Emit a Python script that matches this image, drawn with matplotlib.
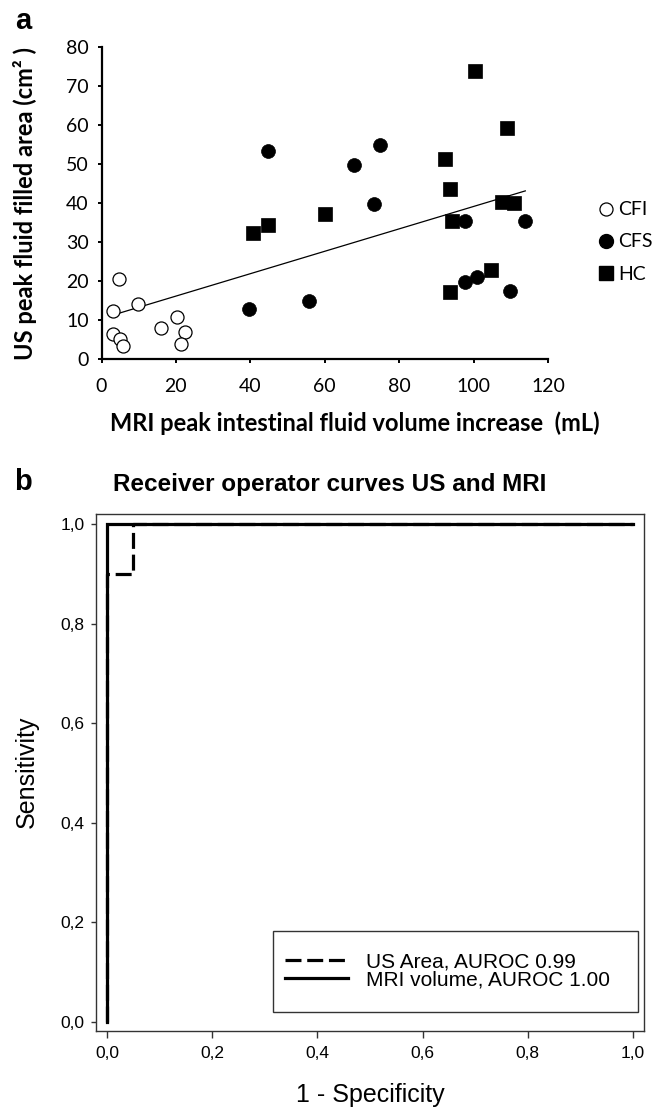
import matplotlib
matplotlib.use('Agg')
import matplotlib.pyplot as plt
from matplotlib.lines import Line2D
from matplotlib.patches import Rectangle

W, H, DPI = 661, 1117, 100

# ---------------- Panel a data ----------------
cfi_x = [4.7, 3.2, 9.7, 3.2, 5.0, 5.7, 15.9, 20.2, 22.4, 21.4]
cfi_y = [20.5, 12.4, 14.2, 6.4, 5.2, 3.4, 7.9, 10.7, 6.9, 3.8]
cfs_x = [44.8, 39.6, 55.8, 67.8, 73.2, 74.8, 97.8, 113.7, 97.8, 101.0, 109.8]
cfs_y = [53.3, 12.8, 14.9, 49.6, 39.7, 54.8, 35.4, 35.4, 19.9, 21.1, 17.6]
hc_x = [40.7, 44.8, 60.0, 92.3, 100.4, 93.7, 94.1, 109.1, 107.6, 110.9, 104.8, 93.7]
hc_y = [32.4, 34.4, 37.2, 51.3, 73.8, 43.7, 35.4, 59.3, 40.2, 39.9, 22.85, 17.3]
trend_x = [3.0, 113.9]
trend_y = [11.3, 43.1]
group_labels = ['CFI', 'CFS', 'HC']
xticks_a = [0, 20, 40, 60, 80, 100, 120]
yticks_a = [0, 10, 20, 30, 40, 50, 60, 70, 80]

# ---------------- Panel b data ----------------
us_fpr = [0.0, 0.0, 0.05, 0.05, 1.0]
us_tpr = [0.0, 0.9, 0.9, 1.0, 1.0]
mri_fpr = [0.0, 0.0, 1.0]
mri_tpr = [0.0, 1.0, 1.0]
roc_labels = ['US Area, AUROC 0.99', 'MRI volume, AUROC 1.00']
ticks_b = [0.0, 0.2, 0.4, 0.6, 0.8, 1.0]
ticklabels_b = ['0,0', '0,2', '0,4', '0,6', '0,8', '1,0']

fig = plt.figure(figsize=(W / DPI, H / DPI), dpi=DPI)
fig.patch.set_facecolor('white')

def fx(px):
    return px / W

def fy(py):
    return 1 - py / H

CAL = ['Lato', 'DejaVu Sans']
ARI = ['Liberation Sans', 'DejaVu Sans']

# ---------------- Panel a ----------------
l, r, t, b = 101.5, 548, 46.7, 359.3
axa = fig.add_axes([fx(l), fy(b), (r - l) / W, (b - t) / H])
axa.plot(trend_x, trend_y, color='black', lw=0.9, zorder=2)
axa.plot(cfi_x, cfi_y, linestyle='none', marker='o', ms=9.4, mfc='white',
         mec='black', mew=0.9, zorder=3)
axa.plot(cfs_x, cfs_y, linestyle='none', marker='o', ms=10.0, mfc='black',
         mec='black', mew=0.5, zorder=3)
axa.plot(hc_x, hc_y, linestyle='none', marker='s', ms=9.6, mfc='black',
         mec='black', mew=0.5, zorder=3)
axa.set_xlim(0, 120)
axa.set_ylim(0, 80)
axa.set_xticks(xticks_a)
axa.set_yticks(yticks_a)
for s in ['top', 'right']:
    axa.spines[s].set_visible(False)
for s in ['left', 'bottom']:
    axa.spines[s].set_linewidth(1.6)
axa.tick_params(axis='both', direction='out', length=3.2, width=1.4,
                labelsize=14)
axa.tick_params(axis='x', pad=10)
axa.tick_params(axis='y', pad=6)
for lab in axa.get_xticklabels() + axa.get_yticklabels():
    lab.set_family(CAL)

hnd_a = [
    Line2D([], [], linestyle='none', marker='o', ms=9.4, mfc='white', mec='black', mew=0.9),
    Line2D([], [], linestyle='none', marker='o', ms=10.0, mfc='black', mec='black'),
    Line2D([], [], linestyle='none', marker='s', ms=9.6, mfc='black', mec='black'),
]
fig.legend(hnd_a, group_labels, loc='center left',
           bbox_to_anchor=(fx(598), fy(242)), frameon=False,
           prop={'family': CAL, 'size': 14}, handlelength=0.8,
           handletextpad=0.25, labelspacing=0.78, borderpad=0,
           borderaxespad=0)

fig.text(fx(355), fy(423), 'MRI peak intestinal fluid volume increase  (mL)',
         ha='center', va='center', fontsize=17, fontweight='bold', family=CAL)
fig.text(fx(25), fy(204), 'US peak fluid filled area (cm² )', rotation=90,
         ha='center', va='center', fontsize=17, fontweight='bold', family=CAL)
fig.text(fx(23), fy(21), 'a', ha='center', va='center', fontsize=21,
         fontweight='bold', family=ARI)

# ---------------- Panel b ----------------
l, r, t, b = 96, 644, 514, 1031
axb = fig.add_axes([fx(l), fy(b), (r - l) / W, (b - t) / H])
axb.plot(mri_fpr, mri_tpr, color='black', lw=2.3, solid_joinstyle='miter',
         label=roc_labels[1], zorder=3)
axb.plot(us_fpr, us_tpr, color='black', lw=2.3, linestyle=(0, (5.0, 1.8)),
         label=roc_labels[0], zorder=4)
axb.set_xlim(-0.021, 1.021)
axb.set_ylim(-0.018, 1.02)
axb.set_xticks(ticks_b)
axb.set_yticks(ticks_b)
axb.set_xticklabels(ticklabels_b)
axb.set_yticklabels(ticklabels_b)
for s in axb.spines.values():
    s.set_linewidth(1.0)
    s.set_color('#333333')
axb.tick_params(axis='both', direction='out', width=1.0, color='#333333',
                labelsize=12.5)
axb.tick_params(axis='x', length=5, pad=6)
axb.tick_params(axis='y', length=3.6, pad=4.5)
for lab in axb.get_xticklabels() + axb.get_yticklabels():
    lab.set_family(ARI)

axb.add_patch(Rectangle((0.323, 0.0368), 0.6661, 0.1567, transform=axb.transAxes,
                        facecolor='white', edgecolor='#333333', lw=1.0, zorder=5))
hnd_b = [
    Line2D([], [], color='black', lw=2.3, linestyle=(0, (5.0, 1.8))),
    Line2D([], [], color='black', lw=2.3),
]
fig.legend(hnd_b, roc_labels, loc='center left',
           bbox_to_anchor=(fx(285), fy(971)), frameon=False,
           prop={'family': ARI, 'size': 15}, handlelength=3.0,
           handletextpad=0.9, labelspacing=-0.05, borderpad=0,
           borderaxespad=0).set_zorder(6)

fig.text(fx(330), fy(484), 'Receiver operator curves US and MRI',
         ha='center', va='center', fontsize=17.5, fontweight='bold', family=ARI)
fig.text(fx(370), fy(1095), '1 - Specificity', ha='center', va='center',
         fontsize=18, family=ARI)
fig.text(fx(27), fy(772), 'Sensitivity', rotation=90, ha='center',
         va='center', fontsize=18, family=ARI)
fig.text(fx(23), fy(482), 'b', ha='center', va='center', fontsize=21,
         fontweight='bold', family=ARI)

fig.savefig('out.png', dpi=DPI, facecolor='white')
